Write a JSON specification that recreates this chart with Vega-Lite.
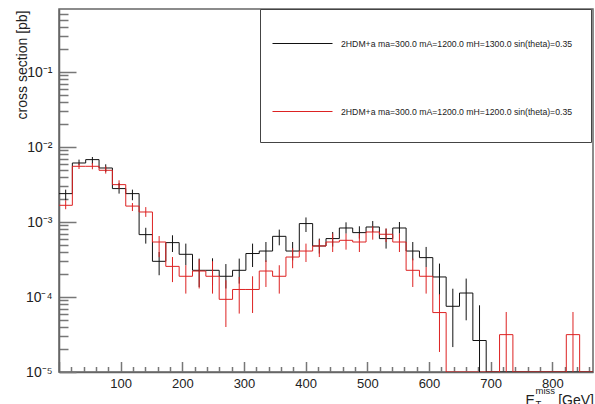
{
  "$schema": "https://vega.github.io/schema/vega-lite/v6.json",
  "width": 534,
  "height": 363,
  "autosize": {"type": "none"},
  "padding": {"left": 59, "top": 9, "right": 2, "bottom": 32},
  "background": "white",
  "config": {
    "font": "Liberation Sans",
    "view": {"stroke": "#666666", "strokeWidth": 1.5},
    "axis": {
      "labelFont": "Liberation Sans",
      "titleFont": "Liberation Sans",
      "labelColor": "#222222",
      "titleColor": "#222222",
      "titleFontWeight": "normal",
      "domainColor": "#666666",
      "domainWidth": 1.5,
      "tickColor": "#777777",
      "tickWidth": 1.5,
      "grid": false,
      "labelOverlap": false,
      "labelFlush": false,
      "labelBound": false
    }
  },
  "datasets": {
    "hist": [
      {"s": "2HDM+a ma=300.0 mA=1200.0 mH=1300.0 sin(theta)=0.35", "x0": 0, "xc": 10.825, "v": 0.00239, "lo": 0.00195, "hi": 0.0027},
      {"s": "2HDM+a ma=300.0 mA=1200.0 mH=1300.0 sin(theta)=0.35", "x0": 21.65, "xc": 32.475, "v": 0.00612, "lo": 0.0057, "hi": 0.00679},
      {"s": "2HDM+a ma=300.0 mA=1200.0 mH=1300.0 sin(theta)=0.35", "x0": 43.3, "xc": 54.125, "v": 0.00679, "lo": 0.00588, "hi": 0.00736},
      {"s": "2HDM+a ma=300.0 mA=1200.0 mH=1300.0 sin(theta)=0.35", "x0": 64.95, "xc": 75.775, "v": 0.00525, "lo": 0.00465, "hi": 0.00588},
      {"s": "2HDM+a ma=300.0 mA=1200.0 mH=1300.0 sin(theta)=0.35", "x0": 86.6, "xc": 97.425, "v": 0.00279, "lo": 0.00239, "hi": 0.00331},
      {"s": "2HDM+a ma=300.0 mA=1200.0 mH=1300.0 sin(theta)=0.35", "x0": 108.25, "xc": 119.075, "v": 0.00239, "lo": 0.00195, "hi": 0.0027},
      {"s": "2HDM+a ma=300.0 mA=1200.0 mH=1300.0 sin(theta)=0.35", "x0": 129.9, "xc": 140.725, "v": 0.000679, "lo": 0.000515, "hi": 0.000838},
      {"s": "2HDM+a ma=300.0 mA=1200.0 mH=1300.0 sin(theta)=0.35", "x0": 151.55, "xc": 162.375, "v": 0.000299, "lo": 0.000195, "hi": 0.000398},
      {"s": "2HDM+a ma=300.0 mA=1200.0 mH=1300.0 sin(theta)=0.35", "x0": 173.2, "xc": 184.025, "v": 0.000531, "lo": 0.000398, "hi": 0.000665},
      {"s": "2HDM+a ma=300.0 mA=1200.0 mH=1300.0 sin(theta)=0.35", "x0": 194.85, "xc": 205.675, "v": 0.000371, "lo": 0.000265, "hi": 0.000515},
      {"s": "2HDM+a ma=300.0 mA=1200.0 mH=1300.0 sin(theta)=0.35", "x0": 216.5, "xc": 227.325, "v": 0.000227, "lo": 0.000136, "hi": 0.000325},
      {"s": "2HDM+a ma=300.0 mA=1200.0 mH=1300.0 sin(theta)=0.35", "x0": 238.15, "xc": 248.975, "v": 0.000227, "lo": 0.000143, "hi": 0.000328},
      {"s": "2HDM+a ma=300.0 mA=1200.0 mH=1300.0 sin(theta)=0.35", "x0": 259.8, "xc": 270.625, "v": 0.000189, "lo": 0.00013, "hi": 0.000275},
      {"s": "2HDM+a ma=300.0 mA=1200.0 mH=1300.0 sin(theta)=0.35", "x0": 281.45, "xc": 292.275, "v": 0.000227, "lo": 0.000151, "hi": 0.000325},
      {"s": "2HDM+a ma=300.0 mA=1200.0 mH=1300.0 sin(theta)=0.35", "x0": 303.1, "xc": 313.925, "v": 0.00038, "lo": 0.000251, "hi": 0.000515},
      {"s": "2HDM+a ma=300.0 mA=1200.0 mH=1300.0 sin(theta)=0.35", "x0": 324.75, "xc": 335.575, "v": 0.00041, "lo": 0.000293, "hi": 0.000541},
      {"s": "2HDM+a ma=300.0 mA=1200.0 mH=1300.0 sin(theta)=0.35", "x0": 346.4, "xc": 357.225, "v": 0.000644, "lo": 0.000489, "hi": 0.000792},
      {"s": "2HDM+a ma=300.0 mA=1200.0 mH=1300.0 sin(theta)=0.35", "x0": 368.05, "xc": 378.875, "v": 0.00041, "lo": 0.000308, "hi": 0.000541},
      {"s": "2HDM+a ma=300.0 mA=1200.0 mH=1300.0 sin(theta)=0.35", "x0": 389.7, "xc": 400.525, "v": 0.000953, "lo": 0.000736, "hi": 0.00115},
      {"s": "2HDM+a ma=300.0 mA=1200.0 mH=1300.0 sin(theta)=0.35", "x0": 411.35, "xc": 422.175, "v": 0.000479, "lo": 0.00038, "hi": 0.000601},
      {"s": "2HDM+a ma=300.0 mA=1200.0 mH=1300.0 sin(theta)=0.35", "x0": 433, "xc": 443.825, "v": 0.000601, "lo": 0.00047, "hi": 0.000736},
      {"s": "2HDM+a ma=300.0 mA=1200.0 mH=1300.0 sin(theta)=0.35", "x0": 454.65, "xc": 465.475, "v": 0.000832, "lo": 0.0007, "hi": 0.00099},
      {"s": "2HDM+a ma=300.0 mA=1200.0 mH=1300.0 sin(theta)=0.35", "x0": 476.3, "xc": 487.125, "v": 0.000722, "lo": 0.000601, "hi": 0.000877},
      {"s": "2HDM+a ma=300.0 mA=1200.0 mH=1300.0 sin(theta)=0.35", "x0": 497.95, "xc": 508.775, "v": 0.000858, "lo": 0.000736, "hi": 0.00103},
      {"s": "2HDM+a ma=300.0 mA=1200.0 mH=1300.0 sin(theta)=0.35", "x0": 519.6, "xc": 530.425, "v": 0.000601, "lo": 0.000442, "hi": 0.000817},
      {"s": "2HDM+a ma=300.0 mA=1200.0 mH=1300.0 sin(theta)=0.35", "x0": 541.25, "xc": 552.075, "v": 0.000832, "lo": 0.0007, "hi": 0.001},
      {"s": "2HDM+a ma=300.0 mA=1200.0 mH=1300.0 sin(theta)=0.35", "x0": 562.9, "xc": 573.725, "v": 0.00041, "lo": 0.000308, "hi": 0.000541},
      {"s": "2HDM+a ma=300.0 mA=1200.0 mH=1300.0 sin(theta)=0.35", "x0": 584.55, "xc": 595.375, "v": 0.000335, "lo": 0.000251, "hi": 0.000465},
      {"s": "2HDM+a ma=300.0 mA=1200.0 mH=1300.0 sin(theta)=0.35", "x0": 606.2, "xc": 617.025, "v": 0.000185, "lo": 0.000105, "hi": 0.000279},
      {"s": "2HDM+a ma=300.0 mA=1200.0 mH=1300.0 sin(theta)=0.35", "x0": 627.85, "xc": 638.675, "v": 0.0000752, "lo": 0.0000215, "hi": 0.000129},
      {"s": "2HDM+a ma=300.0 mA=1200.0 mH=1300.0 sin(theta)=0.35", "x0": 649.5, "xc": 660.325, "v": 0.000113, "lo": 0.0000489, "hi": 0.000176},
      {"s": "2HDM+a ma=300.0 mA=1200.0 mH=1300.0 sin(theta)=0.35", "x0": 671.15, "xc": 681.975, "v": 0.0000263, "lo": 0.00001, "hi": 0.0000775},
      {"s": "2HDM+a ma=300.0 mA=1200.0 mH=1300.0 sin(theta)=0.35", "x0": 692.8, "v": 0.00001},
      {"s": "2HDM+a ma=300.0 mA=1200.0 mH=1300.0 sin(theta)=0.35", "x0": 714.45, "v": 0.00001},
      {"s": "2HDM+a ma=300.0 mA=1200.0 mH=1300.0 sin(theta)=0.35", "x0": 736.1, "v": 0.00001},
      {"s": "2HDM+a ma=300.0 mA=1200.0 mH=1300.0 sin(theta)=0.35", "x0": 757.75, "v": 0.00001},
      {"s": "2HDM+a ma=300.0 mA=1200.0 mH=1300.0 sin(theta)=0.35", "x0": 779.4, "v": 0.00001},
      {"s": "2HDM+a ma=300.0 mA=1200.0 mH=1300.0 sin(theta)=0.35", "x0": 801.05, "v": 0.00001},
      {"s": "2HDM+a ma=300.0 mA=1200.0 mH=1300.0 sin(theta)=0.35", "x0": 822.7, "v": 0.00001},
      {"s": "2HDM+a ma=300.0 mA=1200.0 mH=1300.0 sin(theta)=0.35", "x0": 844.35, "v": 0.00001},
      {"s": "2HDM+a ma=300.0 mA=1200.0 mH=1300.0 sin(theta)=0.35", "x0": 866, "v": 0.00001},
      {"s": "2HDM+a ma=300.0 mA=1200.0 mH=1200.0 sin(theta)=0.35", "x0": 0, "xc": 10.825, "v": 0.00167, "lo": 0.00148, "hi": 0.00195},
      {"s": "2HDM+a ma=300.0 mA=1200.0 mH=1200.0 sin(theta)=0.35", "x0": 21.65, "xc": 32.475, "v": 0.00553, "lo": 0.00509, "hi": 0.00601},
      {"s": "2HDM+a ma=300.0 mA=1200.0 mH=1200.0 sin(theta)=0.35", "x0": 43.3, "xc": 54.125, "v": 0.00553, "lo": 0.00505, "hi": 0.00612},
      {"s": "2HDM+a ma=300.0 mA=1200.0 mH=1200.0 sin(theta)=0.35", "x0": 64.95, "xc": 75.775, "v": 0.00489, "lo": 0.00442, "hi": 0.00553},
      {"s": "2HDM+a ma=300.0 mA=1200.0 mH=1200.0 sin(theta)=0.35", "x0": 86.6, "xc": 97.425, "v": 0.00315, "lo": 0.00279, "hi": 0.0036},
      {"s": "2HDM+a ma=300.0 mA=1200.0 mH=1200.0 sin(theta)=0.35", "x0": 108.25, "xc": 119.075, "v": 0.00163, "lo": 0.0014, "hi": 0.00179},
      {"s": "2HDM+a ma=300.0 mA=1200.0 mH=1200.0 sin(theta)=0.35", "x0": 129.9, "xc": 140.725, "v": 0.00136, "lo": 0.00117, "hi": 0.00158},
      {"s": "2HDM+a ma=300.0 mA=1200.0 mH=1200.0 sin(theta)=0.35", "x0": 151.55, "xc": 162.375, "v": 0.000541, "lo": 0.00034, "hi": 0.00065},
      {"s": "2HDM+a ma=300.0 mA=1200.0 mH=1200.0 sin(theta)=0.35", "x0": 173.2, "xc": 184.025, "v": 0.000256, "lo": 0.000158, "hi": 0.000341},
      {"s": "2HDM+a ma=300.0 mA=1200.0 mH=1200.0 sin(theta)=0.35", "x0": 194.85, "xc": 205.675, "v": 0.000189, "lo": 0.000111, "hi": 0.000265},
      {"s": "2HDM+a ma=300.0 mA=1200.0 mH=1200.0 sin(theta)=0.35", "x0": 216.5, "xc": 227.325, "v": 0.000222, "lo": 0.00013, "hi": 0.000318},
      {"s": "2HDM+a ma=300.0 mA=1200.0 mH=1200.0 sin(theta)=0.35", "x0": 238.15, "xc": 248.975, "v": 0.000189, "lo": 0.000111, "hi": 0.0003},
      {"s": "2HDM+a ma=300.0 mA=1200.0 mH=1200.0 sin(theta)=0.35", "x0": 259.8, "xc": 270.625, "v": 0.0000931, "lo": 0.0000398, "hi": 0.000167},
      {"s": "2HDM+a ma=300.0 mA=1200.0 mH=1200.0 sin(theta)=0.35", "x0": 281.45, "xc": 292.275, "v": 0.000126, "lo": 0.0000601, "hi": 0.000185},
      {"s": "2HDM+a ma=300.0 mA=1200.0 mH=1200.0 sin(theta)=0.35", "x0": 303.1, "xc": 313.925, "v": 0.000126, "lo": 0.0000612, "hi": 0.000189},
      {"s": "2HDM+a ma=300.0 mA=1200.0 mH=1200.0 sin(theta)=0.35", "x0": 324.75, "xc": 335.575, "v": 0.000222, "lo": 0.000136, "hi": 0.000308},
      {"s": "2HDM+a ma=300.0 mA=1200.0 mH=1200.0 sin(theta)=0.35", "x0": 346.4, "xc": 357.225, "v": 0.000189, "lo": 0.000111, "hi": 0.000265},
      {"s": "2HDM+a ma=300.0 mA=1200.0 mH=1200.0 sin(theta)=0.35", "x0": 368.05, "xc": 378.875, "v": 0.000341, "lo": 0.000242, "hi": 0.000446},
      {"s": "2HDM+a ma=300.0 mA=1200.0 mH=1200.0 sin(theta)=0.35", "x0": 389.7, "xc": 400.525, "v": 0.00041, "lo": 0.000293, "hi": 0.000515},
      {"s": "2HDM+a ma=300.0 mA=1200.0 mH=1200.0 sin(theta)=0.35", "x0": 411.35, "xc": 422.175, "v": 0.000479, "lo": 0.000341, "hi": 0.000582},
      {"s": "2HDM+a ma=300.0 mA=1200.0 mH=1200.0 sin(theta)=0.35", "x0": 433, "xc": 443.825, "v": 0.000541, "lo": 0.000398, "hi": 0.0007},
      {"s": "2HDM+a ma=300.0 mA=1200.0 mH=1200.0 sin(theta)=0.35", "x0": 454.65, "xc": 465.475, "v": 0.00057, "lo": 0.000428, "hi": 0.0007},
      {"s": "2HDM+a ma=300.0 mA=1200.0 mH=1200.0 sin(theta)=0.35", "x0": 476.3, "xc": 487.125, "v": 0.000541, "lo": 0.000398, "hi": 0.0007},
      {"s": "2HDM+a ma=300.0 mA=1200.0 mH=1200.0 sin(theta)=0.35", "x0": 497.95, "xc": 508.775, "v": 0.000736, "lo": 0.000582, "hi": 0.000877},
      {"s": "2HDM+a ma=300.0 mA=1200.0 mH=1200.0 sin(theta)=0.35", "x0": 519.6, "xc": 530.425, "v": 0.000686, "lo": 0.000541, "hi": 0.000817},
      {"s": "2HDM+a ma=300.0 mA=1200.0 mH=1200.0 sin(theta)=0.35", "x0": 541.25, "xc": 552.075, "v": 0.000541, "lo": 0.000398, "hi": 0.0007},
      {"s": "2HDM+a ma=300.0 mA=1200.0 mH=1200.0 sin(theta)=0.35", "x0": 562.9, "xc": 573.725, "v": 0.000227, "lo": 0.000136, "hi": 0.000325},
      {"s": "2HDM+a ma=300.0 mA=1200.0 mH=1200.0 sin(theta)=0.35", "x0": 584.55, "xc": 595.375, "v": 0.000189, "lo": 0.000111, "hi": 0.000251},
      {"s": "2HDM+a ma=300.0 mA=1200.0 mH=1200.0 sin(theta)=0.35", "x0": 606.2, "xc": 617.025, "v": 0.000062, "lo": 0.0000185, "hi": 0.000109},
      {"s": "2HDM+a ma=300.0 mA=1200.0 mH=1200.0 sin(theta)=0.35", "x0": 627.85, "v": 0.00001},
      {"s": "2HDM+a ma=300.0 mA=1200.0 mH=1200.0 sin(theta)=0.35", "x0": 649.5, "v": 0.00001},
      {"s": "2HDM+a ma=300.0 mA=1200.0 mH=1200.0 sin(theta)=0.35", "x0": 671.15, "v": 0.00001},
      {"s": "2HDM+a ma=300.0 mA=1200.0 mH=1200.0 sin(theta)=0.35", "x0": 692.8, "v": 0.00001},
      {"s": "2HDM+a ma=300.0 mA=1200.0 mH=1200.0 sin(theta)=0.35", "x0": 714.45, "xc": 725.275, "v": 0.0000315, "lo": 0.00001, "hi": 0.0000631},
      {"s": "2HDM+a ma=300.0 mA=1200.0 mH=1200.0 sin(theta)=0.35", "x0": 736.1, "v": 0.00001},
      {"s": "2HDM+a ma=300.0 mA=1200.0 mH=1200.0 sin(theta)=0.35", "x0": 757.75, "v": 0.00001},
      {"s": "2HDM+a ma=300.0 mA=1200.0 mH=1200.0 sin(theta)=0.35", "x0": 779.4, "v": 0.00001},
      {"s": "2HDM+a ma=300.0 mA=1200.0 mH=1200.0 sin(theta)=0.35", "x0": 801.05, "v": 0.00001},
      {"s": "2HDM+a ma=300.0 mA=1200.0 mH=1200.0 sin(theta)=0.35", "x0": 822.7, "xc": 833.525, "v": 0.0000315, "lo": 0.00001, "hi": 0.0000631},
      {"s": "2HDM+a ma=300.0 mA=1200.0 mH=1200.0 sin(theta)=0.35", "x0": 844.35, "v": 0.00001},
      {"s": "2HDM+a ma=300.0 mA=1200.0 mH=1200.0 sin(theta)=0.35", "x0": 866, "v": 0.00001}
    ]
  },
  "data": {"name": "hist"},
  "resolve": {"axis": {"x": "independent"}},
  "layer": [
    {
      "mark": {"type": "line", "interpolate": "step-after", "strokeWidth": 1, "clip": true},
      "encoding": {
        "x": {
          "field": "x0", "type": "quantitative",
          "scale": {"domain": [0, 866], "nice": false, "zero": false},
          "axis": {
            "orient": "bottom",
            "values": [0,20,40,60,80,100,120,140,160,180,200,220,240,260,280,300,320,340,360,380,400,420,440,460,480,500,520,540,560,580,600,620,640,660,680,700,720,740,760,780,800,820,840,860],
            "labelExpr": "datum.value % 100 == 0 && datum.value > 0 ? datum.label : ''",
            "tickSize": {"condition": {"test": "datum.value % 100 == 0", "value": -10.5}, "value": -5.5},
            "labelFontSize": 13,
            "labelPadding": 16,
            "title": "E\u00a0\u00a0\u00a0\u00a0\u00a0\u00a0[GeV]",
            "titleFontSize": 14,
            "titleX": 466,
            "titleY": 32,
            "titleAlign": "left",
            "titleBaseline": "alphabetic",
            "titleAngle": 0
          }
        },
        "y": {
          "field": "v", "type": "quantitative",
          "scale": {"type": "log", "domain": [0.00001, 0.692], "nice": false},
          "axis": {
            "values": [0.00001,0.00002,0.00003,0.00004,0.00005,0.00006,0.00007,0.00008,0.00009,0.0001,0.0002,0.0003,0.0004,0.0005,0.0006,0.0007,0.0008,0.0009,0.001,0.002,0.003,0.004,0.005,0.006,0.007,0.008,0.009,0.01,0.02,0.03,0.04,0.05,0.06,0.07,0.08,0.09,0.1,0.2,0.3,0.4,0.5,0.6],
            "labelExpr": "abs(log(datum.value)/LN10 - round(log(datum.value)/LN10)) < 0.001 ? ['10\u207b\u2075','10\u207b\u2074','10\u207b\u00b3','10\u207b\u00b2','10\u207b\u00b9'][round(log(datum.value)/LN10)+5] : ''",
            "tickSize": {"condition": {"test": "abs(log(datum.value)/LN10 - round(log(datum.value)/LN10)) < 0.001", "value": -17}, "value": -9},
            "labelFontSize": 14,
            "labelPadding": 24,
            "title": "cross section [pb]",
            "titleFontSize": 14,
            "titleAngle": -90,
            "titleX": -33,
            "titleY": 1,
            "titleAlign": "right",
            "titleBaseline": "alphabetic"
          }
        },
        "color": {
          "field": "s", "type": "nominal",
          "scale": {"domain": ["2HDM+a ma=300.0 mA=1200.0 mH=1300.0 sin(theta)=0.35", "2HDM+a ma=300.0 mA=1200.0 mH=1200.0 sin(theta)=0.35"], "range": ["#111111", "#dd2222"]},
          "legend": {
            "orient": "none",
            "legendX": 201,
            "legendY": 0,
            "title": ["\u00a0", "\u00a0"],
            "titleOrient": "right",
            "titleFontSize": 1,
            "titleLineHeight": 145,
            "titlePadding": 15,
            "titleBaseline": "top",
            "fillColor": "white",
            "strokeColor": "#444444",
            "padding": 4,
            "symbolType": "stroke",
            "symbolSize": 3600,
            "symbolStrokeWidth": 1,
            "symbolOffset": 8,
            "labelOffset": 8,
            "rowPadding": 32,
            "labelFont": "Liberation Sans",
            "labelFontSize": 8.7,
            "labelColor": "#222222",
            "labelLimit": 0
          }
        }
      }
    },
    {
      "mark": {"type": "rule", "strokeWidth": 1, "clip": true},
      "encoding": {
        "x": {
          "field": "xc", "type": "quantitative",
          "axis": {
            "orient": "bottom",
            "ticks": false,
            "labels": false,
            "domain": false,
            "title": ["miss", "T"],
            "titleFontSize": 9.5,
            "titleLineHeight": 13,
            "titleX": 476,
            "titleY": 21,
            "titleAlign": "left",
            "titleBaseline": "alphabetic",
            "titleAngle": 0
          }
        },
        "y": {"field": "lo", "type": "quantitative", "axis": {"title": "cross section [pb]"}},
        "y2": {"field": "hi"},
        "color": {"field": "s", "type": "nominal"}
      }
    }
  ]
}
